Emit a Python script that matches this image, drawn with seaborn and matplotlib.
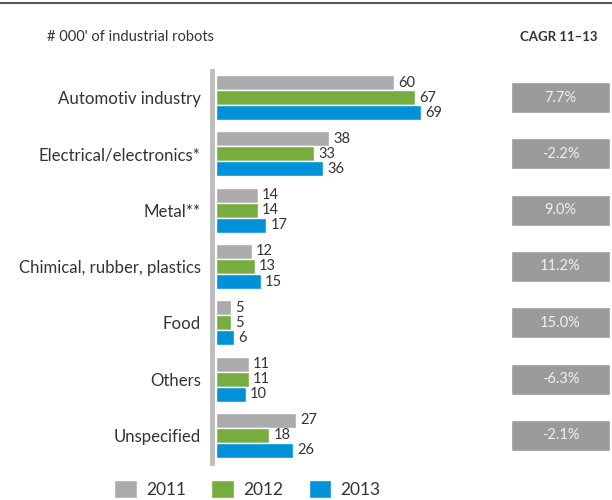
import numpy as np
import pandas as pd
import matplotlib
matplotlib.use('Agg')
import matplotlib.pyplot as plt
from matplotlib.lines import Line2D
import seaborn as sns

# %%
# Data
sectors = ['Automotiv industry', 'Electrical/electronics*', 'Metal**',
           'Chimical, rubber, plastics', 'Food', 'Others', 'Unspecified']
years = ['2011', '2012', '2013']
robots_2011 = [60, 38, 14, 12, 5, 11, 27]
robots_2012 = [67, 33, 14, 13, 5, 11, 18]
robots_2013 = [69, 36, 17, 15, 6, 10, 26]
cagr_labels = ['7.7%', '-2.2%', '9.0%', '11.2%', '15.0%', '-6.3%', '-2.1%']

colors = ['#ABABAB', '#77AC3F', '#0092D9']
text_color = '#333333'

# %%
df = pd.DataFrame({
    'sector': sectors * 3,
    'year': np.repeat(years, len(sectors)),
    'robots': robots_2011 + robots_2012 + robots_2013,
})

sns.set_style('white')
plt.rcParams['font.family'] = ['Lato', 'DejaVu Sans']

fig = plt.figure(figsize=(6.12, 5.0), dpi=100)
W, H = 612, 500

# main bar axes, placed in pixel terms
ax = fig.add_axes([216 / W, 1 - 462.5 / H, 284 / W, 392 / H])
sns.barplot(data=df, y='sector', x='robots', hue='year', orient='h',
            palette=colors, width=0.8, saturation=1, ax=ax, legend=True)
for container in ax.containers:
    ax.bar_label(container, padding=3, fontsize=10.5, color=text_color)

ax.set_xlim(0, 284 / 2.97)
ax.set_ylim(6.48, -0.48)
ax.set_xlabel('')
ax.set_ylabel('')
ax.set_xticks([])
ax.tick_params(axis='y', length=0, pad=8, labelsize=12.1, labelcolor=text_color)
for side in ['top', 'right', 'bottom']:
    ax.spines[side].set_visible(False)
ax.spines['left'].set_color('#BDBDBD')
ax.spines['left'].set_linewidth(3.5)
ax.spines['left'].set_position(('outward', 3))

handles, labels = ax.get_legend_handles_labels()
ax.get_legend().remove()

# CAGR boxes on their own axes
ax2 = fig.add_axes([511 / W, 1 - 462.5 / H, 99 / W, 392 / H])
ax2.barh(range(len(sectors)), [1] * len(sectors), height=31 / 56, color='#9B9B9B')
for i, lab in enumerate(cagr_labels):
    ax2.text(0.5, i, lab, ha='center', va='center', color='#F0F0F0', fontsize=10.5)
ax2.set_xlim(0, 1)
ax2.set_ylim(6.48, -0.48)
ax2.axis('off')

# header texts
fig.text(47 / W, 1 - 37 / H, "# 000' of industrial robots", fontsize=10.5,
         color=text_color, va='center', ha='left')
fig.text(598 / W, 1 - 37 / H, 'CAGR 11–13', fontsize=9.5, fontweight='bold',
         color=text_color, va='center', ha='right')

# top rule
fig.add_artist(Line2D([0, 1], [1 - 3 / H, 1 - 3 / H], color='#555555', linewidth=1.5,
                      transform=fig.transFigure))

fig.legend(handles, labels, loc='center left', bbox_to_anchor=(114 / W, 1 - 489 / H),
           ncol=3, frameon=False, fontsize=12.5, handlelength=1.3, handleheight=1.3,
           handletextpad=0.55, columnspacing=1.45, labelcolor=text_color,
           borderpad=0, borderaxespad=0)

fig.savefig('out.png', dpi=100)
